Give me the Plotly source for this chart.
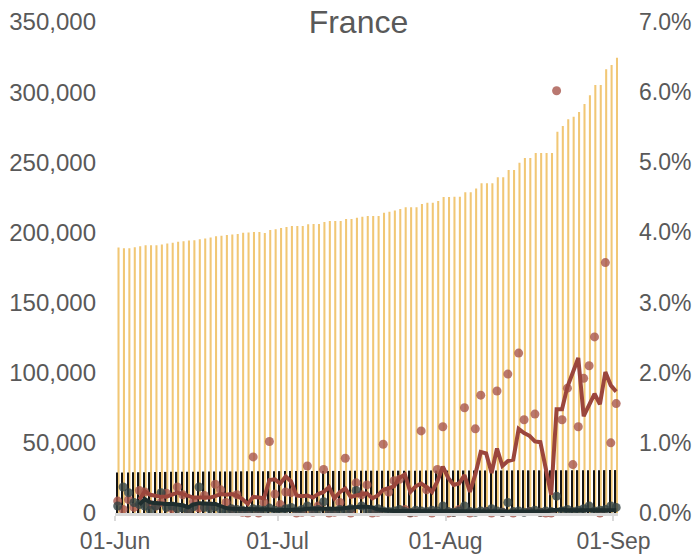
import pandas as pd
import plotly.graph_objects as go

# ---------------- data ----------------
dates = pd.date_range("2020-06-01", "2020-09-01", freq="D") + pd.Timedelta(hours=12)

# cumulative confirmed cases (left axis)
cum_cases = [
    189200, 188800, 188800, 189500, 190200, 190900, 190900, 190900, 191400, 192100,
    192600, 193300, 193800, 194200, 194500, 195200, 195700, 196400, 197200, 197700,
    198100, 198600, 198800, 199700, 199900, 200300, 200300, 199600, 201700, 202200,
    203100, 203900, 204600, 204600, 204600, 205800, 206000, 206000, 207400, 208100,
    208100, 208100, 209600, 209600, 210500, 211200, 211700, 211700, 211700, 214100,
    214800, 215700, 216700, 217900, 217900, 217900, 220300, 221200, 221200, 222400,
    225200, 225200, 225500, 225500, 228600, 228600, 231400, 235000, 235000, 235000,
    239300, 239300, 244500, 244500, 249700, 253000, 253000, 256600, 256600, 256600,
    256600, 271800, 275900, 280600, 282500, 285800, 291500, 297700, 305100, 305100,
    316300, 319300, 324500,
]

# cumulative deaths (left axis)
cum_deaths = [
    28802, 28833, 28940, 29021, 29065, 29111, 29142, 29155, 29209, 29296,
    29319, 29346, 29374, 29398, 29407, 29436, 29547, 29575, 29603, 29617,
    29633, 29640, 29663, 29720, 29731, 29752, 29778, 29781, 29813, 29843,
    29861, 29875, 29893, 29920, 29920, 29920, 29933, 29965, 29979, 30004,
    30007, 30007, 30007, 30029, 30120, 30138, 30152, 30155, 30155, 30155,
    30165, 30177, 30182, 30192, 30195, 30195, 30195, 30209, 30223, 30238,
    30254, 30265, 30265, 30265, 30294, 30296, 30305, 30312, 30324, 30324,
    30324, 30340, 30354, 30371, 30388, 30388, 30388, 30406, 30410, 30429,
    30434, 30444, 30444, 30444, 30480, 30503, 30513, 30528, 30544, 30544,
    30544, 30596, 30602,
]

# daily growth of cases, % (right axis)
case_growth = [
    0.17, 0.05, 0.19, 0.08, 0.32, 0.30, 0.12, 0.10, 0.15, 0.28,
    0.06, 0.37, 0.26, 0.03, 0.16, 0.07, 0.25, 0.10, 0.41, 0.33,
    0.15, 0.05, 0.26, 0.01, 0.00, 0.80, 0.00, 0.15, 1.02, 0.27,
    0.12, 0.30, 0.29, 0.00, 0.01, 0.67, 0.01, 0.10, 0.62, 0.00,
    0.01, 0.15, 0.78, 0.00, 0.43, 0.26, 0.40, 0.00, 0.01, 0.98,
    0.30, 0.46, 0.48, 0.05, 0.00, 0.01, 1.17, 0.33, 0.00, 0.62,
    1.23, 0.00, 0.01, 0.05, 1.50, 0.00, 1.20, 1.68, 0.02, 0.00,
    1.74, 0.01, 1.98, 0.00, 2.28, 1.33, 0.02, 1.41, 0.01, 0.00,
    0.00, 6.02, 1.33, 1.78, 0.69, 1.23, 1.92, 2.10, 2.51, 0.00,
    3.57, 1.00, 1.56,
]

# smoothed growth of cases, % (right axis)
case_growth_avg = [
    None, None, None, None, 0.19, 0.31, 0.26, 0.24, 0.23, 0.23,
    0.26, 0.29, 0.27, 0.24, 0.22, 0.22, 0.22, 0.22, 0.24, 0.27,
    0.26, 0.27, 0.25, 0.20, 0.13, 0.23, 0.22, 0.21, 0.47, 0.48,
    0.42, 0.52, 0.45, 0.25, 0.24, 0.25, 0.22, 0.27, 0.30, 0.37,
    0.21, 0.30, 0.35, 0.23, 0.25, 0.27, 0.28, 0.21, 0.25, 0.33,
    0.35, 0.38, 0.50, 0.55, 0.30, 0.38, 0.42, 0.37, 0.30, 0.45,
    0.66, 0.50, 0.40, 0.42, 0.54, 0.30, 0.55, 0.87, 0.85, 0.57,
    0.92, 0.67, 0.74, 0.76, 1.20, 1.14, 1.10, 1.02, 1.01, 0.60,
    0.26, 1.48, 1.48, 1.80, 1.99, 2.21, 1.38, 1.54, 1.70, 1.55,
    2.01, 1.82, 1.73,
]

# daily growth of deaths, % (right axis)
death_growth = [
    0.10, 0.37, 0.29, 0.15, 0.12, 0.10, 0.04, 0.10, 0.29, 0.08,
    0.10, 0.06, 0.07, 0.02, 0.09, 0.37, 0.08, 0.06, 0.09, 0.05,
    0.02, 0.06, 0.05, 0.04, 0.03, 0.06, 0.05, 0.04, 0.07, 0.04,
    0.03, 0.06, 0.08, 0.03, 0.05, 0.10, 0.04, 0.05, 0.16, 0.03,
    0.02, 0.05, 0.04, 0.06, 0.32, 0.10, 0.03, 0.04, 0.06, 0.03,
    0.02, 0.03, 0.05, 0.02, 0.01, 0.04, 0.03, 0.02, 0.04, 0.03,
    0.10, 0.02, 0.01, 0.03, 0.10, 0.02, 0.01, 0.03, 0.02, 0.06,
    0.03, 0.01, 0.15, 0.02, 0.03, 0.01, 0.02, 0.04, 0.01, 0.03,
    0.02, 0.24, 0.03, 0.05, 0.02, 0.04, 0.06, 0.10, 0.03, 0.04,
    0.05, 0.10, 0.08,
]

# smoothed growth of deaths, % (right axis)
death_growth_avg = [
    None, None, None, None, 0.12, 0.20, 0.15, 0.14, 0.14, 0.13,
    0.13, 0.12, 0.11, 0.08, 0.12, 0.14, 0.14, 0.14, 0.13, 0.10,
    0.07, 0.06, 0.06, 0.06, 0.05, 0.05, 0.05, 0.05, 0.05, 0.04,
    0.04, 0.04, 0.05, 0.05, 0.05, 0.06, 0.06, 0.06, 0.06, 0.05,
    0.05, 0.06, 0.07, 0.08, 0.09, 0.09, 0.09, 0.08, 0.05, 0.04,
    0.03, 0.03, 0.03, 0.03, 0.03, 0.03, 0.03, 0.03, 0.03, 0.03,
    0.03, 0.03, 0.03, 0.02, 0.02, 0.02, 0.02, 0.02, 0.02, 0.02,
    0.02, 0.02, 0.02, 0.02, 0.02, 0.02, 0.02, 0.02, 0.02, 0.02,
    0.04, 0.05, 0.05, 0.04, 0.04, 0.04, 0.03, 0.03, 0.03, 0.03,
    0.03, 0.04, 0.04,
]

left_ticks = [0, 50000, 100000, 150000, 200000, 250000, 300000, 350000]
right_ticks = [0, 1, 2, 3, 4, 5, 6, 7]
right_ticklabels = ["0.0%", "1.0%", "2.0%", "3.0%", "4.0%", "5.0%", "6.0%", "7.0%"]
x_ticks = ["2020-06-01", "2020-07-01", "2020-08-01", "2020-09-01"]
x_ticklabels = ["01-Jun", "01-Jul", "01-Aug", "01-Sep"]

# ---------------- figure ----------------
DAY = 86400000
GRAY = "#595959"
FONT = "Liberation Sans, Arial, sans-serif"

fig = go.Figure()

fig.add_trace(go.Bar(
    x=dates, y=cum_cases, width=0.38 * DAY, offset=-0.04 * DAY,
    marker=dict(color="#F1C775", line=dict(width=0)), yaxis="y",
    name="Cases",
))
fig.add_trace(go.Bar(
    x=dates, y=cum_deaths, width=0.26 * DAY, offset=-0.28 * DAY,
    marker=dict(color="#151515", line=dict(width=0)), yaxis="y",
    name="Deaths",
))

fig.add_trace(go.Scatter(
    x=dates, y=case_growth, mode="markers", yaxis="y2", cliponaxis=False,
    marker=dict(size=9, color="rgba(168,86,76,0.80)", line=dict(width=0)),
    name="Case growth",
))
fig.add_trace(go.Scatter(
    x=dates, y=death_growth, mode="markers", yaxis="y2", cliponaxis=False,
    marker=dict(size=9, color="rgba(52,68,68,0.80)", line=dict(width=0)),
    name="Death growth",
))
fig.add_trace(go.Scatter(
    x=dates, y=case_growth_avg, mode="lines", yaxis="y2",
    line=dict(color="#9B463C", width=4), name="Case growth avg",
))
fig.add_trace(go.Scatter(
    x=dates, y=death_growth_avg, mode="lines", yaxis="y2",
    line=dict(color="#1F2E2E", width=4), name="Death growth avg",
))

fig.update_layout(
    width=696, height=556,
    margin=dict(l=115, r=78, t=22, b=43, autoexpand=False),
    paper_bgcolor="white", plot_bgcolor="white",
    barmode="overlay",
    showlegend=False,
    font=dict(family=FONT, color=GRAY, size=23),
    title=dict(text="France", x=0.515, xanchor="center", y=1 - 22 / 556,
               yanchor="middle", yref="container",
               font=dict(family=FONT, size=32, color=GRAY)),
    xaxis=dict(
        type="date", automargin=False,
        range=["2020-06-01 00:00", "2020-09-01 20:00"],
        tickvals=x_ticks, ticktext=x_ticklabels,
        showgrid=False, zeroline=False,
        showline=True, linecolor="#D9D9D9", linewidth=3,
        ticks="outside", ticklen=5, tickwidth=2, tickcolor="#D9D9D9",
        tickfont=dict(size=23, color=GRAY, family=FONT),
    ),
    yaxis=dict(
        automargin=False,
        range=[0, 350000], tickvals=left_ticks, tickformat=",d",
        showgrid=False, zeroline=False, showline=False,
        ticklabelstandoff=18,
        tickfont=dict(size=24, color=GRAY, family=FONT),
    ),
    yaxis2=dict(
        automargin=False,
        range=[0, 7], tickvals=right_ticks, ticktext=right_ticklabels,
        overlaying="y", side="right",
        showgrid=False, zeroline=False, showline=False,
        ticklabelstandoff=20,
        tickfont=dict(size=23, color=GRAY, family=FONT),
    ),
)

fig.write_html(
    "out.html",
    config={"displayModeBar": False},
    post_script="document.body.style.margin='0px';document.body.style.padding='0px';",
)
